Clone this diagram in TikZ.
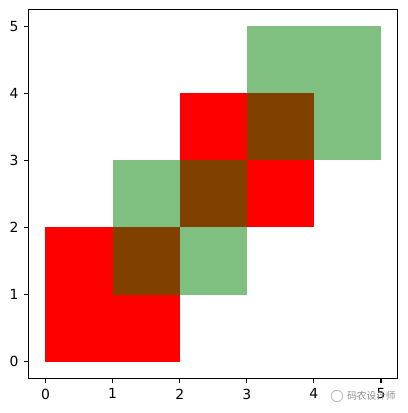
\documentclass[tikz,border=0pt]{standalone}
\usepackage{fontspec}
\setmainfont{DejaVu Sans}
\newfontfamily\cjk{Noto Sans CJK SC}
\definecolor{mplgreen}{HTML}{008000}
\tikzset{
  redsq/.style={fill=red, draw=none},
  greensq/.style={fill=mplgreen, fill opacity=0.5, draw=none},
  spine/.style={draw=black, line width=0.47pt},
  tickmark/.style={draw=black, line width=0.47pt},
  xlab/.style={anchor=north, inner sep=0pt, font=\fontsize{5.9}{7}\selectfont},
  ylab/.style={anchor=east, inner sep=0pt, font=\fontsize{5.9}{7}\selectfont},
  wmark/.style={inner sep=0pt, text=black!45, font=\cjk\fontsize{4.1}{5}\selectfont}
}
\begin{document}
\begin{tikzpicture}[x=1cm,y=1cm]
\useasboundingbox (-0.678,-0.765) rectangle (5.402,5.390);
% red squares
\fill[redsq] (0,0) rectangle (2,2);
\fill[redsq] (2,2) rectangle (4,4);
% green squares (alpha 0.5)
\fill[greensq] (1,1) rectangle (3,3);
\fill[greensq] (3,3) rectangle (5,5);
% axes frame
\node[spine, draw, minimum width=5.5cm, minimum height=5.5cm, inner sep=0pt, fill=none] (frame) at (2.5,2.5) {};
% ticks and labels
\foreach \i in {0,...,5}{
  \coordinate (xt\i) at (\i,-0.25);
  \coordinate (yt\i) at (-0.25,\i);
  \draw[tickmark] (xt\i) -- ++(0,-2.06pt) coordinate (xe\i);
  \draw[tickmark] (yt\i) -- ++(-2.06pt,0) coordinate (ye\i);
  \node[xlab, yshift=-2.08pt] (xl\i) at (xe\i) {\i};
  \node[ylab, xshift=-2.08pt] (yl\i) at (ye\i) {\i};
}
% watermark
\draw[black!25, line width=0.4pt] (4.344,-0.511) circle (0.085);
\node[wmark, anchor=west] (wm) at (4.49,-0.511) {码农设计师};
\end{tikzpicture}
\end{document}
